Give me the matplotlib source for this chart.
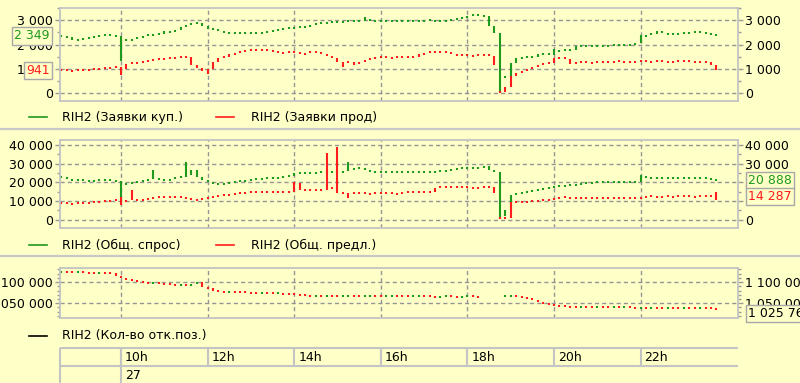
import numpy as np
import matplotlib
matplotlib.use("Agg")
import matplotlib.pyplot as plt
from matplotlib.lines import Line2D
from matplotlib.ticker import MultipleLocator, FuncFormatter
from matplotlib import transforms

# candle grid: one candle every 7.5 minutes, starting 8:37:30
t_first = 8.625
step_h = 0.125
hours = [10, 12, 14, 16, 18, 20, 22]
hour_labels = ["10h", "12h", "14h", "16h", "18h", "20h", "22h"]
day_label = "27"

# RIH2 (Заявки куп.)
bids = [2340, 2300, 2200, 2180, 2250, 2300, 2320, 2340, 2450, 2330, 2350,
        2200,
        2150, 2220, 2300, 2350, 2400, 2380, 2450, 2550, 2500, 2600, 2700, 2800, 2870, 2900,
        2750, 2650, 2600, 2550, 2500, 2480, 2450, 2500, 2470,
        2470, 2500, 2480, 2520, 2550, 2600,
        2650, 2700, 2680, 2720, 2750, 2800,
        2850, 2900, 2880, 2950, 2920, 2960, 3000, 2950, 2980,
        3050,
        2950, 2970, 2940, 2960, 2980, 2950, 2960, 2990, 2970, 2950, 2980, 3000, 2960, 2940,
        2970, 3000, 3050, 3100,
        3150, 3250, 3150, 3180,
        2750, 2480,
        650,
        660, 1230,
        1450, 1480, 1500, 1470, 1600, 1620, 1580,
        1700,
        1770, 1800, 1780,
        1930, 1950, 1920, 1940, 1960, 1950, 1970, 1980, 1960, 1990, 2000, 2050,
        2300,
        2400, 2450, 2550, 2460, 2430, 2400, 2450, 2480, 2500, 2530, 2470, 2450, 2430, 2349]
bids_low = {11: 1320, 81: 0}
bids_high = {56: 3120, 91: 1800, 107: 2380}

# RIH2 (Заявки прод)
asks = [950, 930, 940, 960, 950, 980, 1000, 1020, 1050, 1060, 1070,
        1000,
        1200, 1250, 1270, 1300, 1350, 1380, 1400, 1420, 1450, 1480, 1460, 1500, 1150, 1050,
        900, 1000, 1300, 1450, 1500, 1600, 1650, 1700, 1750,
        1770, 1800, 1780, 1750, 1700, 1690,
        1650, 1700, 1680, 1600, 1650, 1700,
        1680, 1600, 1550, 1450, 1300, 1270, 1300, 1250, 1280,
        1350,
        1450, 1480, 1500, 1450, 1480, 1500, 1470, 1490, 1500, 1600, 1650, 1700, 1690, 1720,
        1680, 1600, 1550, 1580,
        1560, 1540, 1580, 1560,
        1550, 1150,
        40,
        250, 700,
        830, 900, 1000, 1100, 1150, 1230, 1230,
        1440,
        1450, 1420, 1200,
        1270, 1300, 1250, 1280, 1300, 1310, 1290, 1300, 1320, 1280, 1300, 1310,
        1320,
        1300, 1310, 1330, 1300, 1290, 1310, 1350, 1320, 1300, 1310, 1290, 1300, 1150, 941]
asks_low = {11: 740, 27: 800, 52: 1070, 54: 1150}
asks_open = {81: 40}

# RIH2 (Общ. спрос)
demand = [22700, 21500, 21000, 21200, 21000, 20800, 21100, 21000, 21300, 20700, 20500,
          19000,
          19500, 19800, 20500, 21000, 21500, 22000, 21500, 21000, 21800, 22700, 23000, 24000,
          26500, 23000,
          21000, 20000, 19500, 19000, 19500, 20000, 20500, 21000, 20800,
          21500, 21800, 22000, 22500, 22200, 22700,
          23000, 23500, 25000, 25200, 24800, 25000,
          25300, 25500, 25500, 25800, 25500, 26000, 26500, 27600, 27500,
          26500,
          25500, 25600, 25400, 25700, 25500, 25600, 25800, 25500, 25400, 25600, 25700, 25500,
          25800, 26000, 26500, 27000, 27600, 27400,
          27800, 28000, 27600, 28700,
          26500, 25500,
          2000,
          5000, 13000,
          14000, 14500, 15000, 15500, 16000, 16500, 17000,
          17500,
          18000, 18500, 18300,
          19000, 19500, 19200, 19800, 20000, 20000, 19800, 20100, 20000, 20200, 20100, 20300,
          23000,
          22200, 22000, 22300, 22100, 22500, 22200, 22000, 22400, 22100, 22300, 22000, 22200,
          21800, 20888]
demand_low = {11: 12000, 81: 500}
demand_high = {17: 26500, 23: 30800, 53: 30800, 107: 23700}

# RIH2 (Общ. предл.)
supply = [8800, 8500, 8700, 9000, 8800, 9200, 9500, 9800, 10000, 10200, 10400,
          10000,
          10400, 10800, 10500, 11000, 11500, 12000, 11800, 12200, 12000, 11800, 12000, 11500,
          11000, 10500,
          11500, 12000, 12500, 13000, 13200, 13500, 14000, 14200, 14500,
          14700, 14500, 14800, 14600, 14700, 14500,
          14800, 14700, 15800, 15800, 15800, 15500,
          16000, 16000, 17000, 17400, 14500, 14200, 14000, 14000, 14200,
          13800,
          14000, 14300, 14000, 14200, 13900, 14000, 14100, 15000, 14700, 14500, 14800, 15000,
          17000, 17500, 17300, 17400, 17200, 17500,
          17300, 17000, 17400, 17200,
          17500, 14500,
          600,
          600, 9300,
          9300, 9500, 9800, 10000, 10300, 10500, 11000,
          11500,
          11800, 12000, 11500,
          11800, 11600, 11500, 11700, 11500, 11600, 11400, 11500, 11700, 11500, 11600, 11500,
          12000,
          12500, 12300, 12200, 12500, 12400, 12300, 12600, 12500, 12300, 12400, 12600, 12500,
          12400, 14287]
supply_low = {11: 7700, 53: 11500, 83: 1200, 121: 10400}
supply_high = {11: 12000, 13: 15800, 43: 20000, 44: 19500, 49: 35700, 51: 38900,
               64: 15500, 121: 14700}
supply_open = {81: 600}

# RIH2 (Кол-во отк.поз.)
nan = float("nan")
open_int = [1123500, 1123000, 1122800, 1123000, 1122500, 1122000, 1121800, 1122000, 1121500,
            1121000,
            1115000, 1110000,
            1106000, 1103000, 1100500,
            1098000, 1097000, 1097500, 1096500, 1096000, 1095000,
            1093000, 1094000, 1093500, 1095000,
            1101000,
            1088000, 1085000,
            1080000, 1078000, 1077000, 1077500, 1076500, 1076000,
            1075000, 1074500, 1074000, 1074500, 1073500, 1073000, 1073200, 1072500, 1072000,
            1071000, 1070000,
            1068000, 1067000, 1067500, 1066500, 1067000, 1066500, 1066000, 1066800, 1067000,
            1066500, 1066000, 1066500, 1067000, 1066500, 1066000, 1066500, 1067000, 1066800,
            1066500, 1066000, 1066500, 1067000, 1066500, 1066000, 1065500, 1066000, 1066500,
            1066000, 1065500, 1066000, 1066500, 1066000, 1065500,
            nan, nan, nan, nan,
            1066000, 1066500, 1066000, 1065000,
            1061000, 1057000, 1053000, 1050000, 1047000, 1045000, 1043000,
            1042000, 1041500, 1041000, 1041500, 1041000, 1040500, 1041000, 1040500, 1040000,
            1040500, 1040000, 1040500, 1040000, 1039500, 1040000, 1039500, 1040000, 1039500,
            1039000, 1039500, 1039000, 1038500, 1039000, 1038500, 1038000, 1038500, 1038000,
            1037500, 1037000]
open_int_last = 1025760

W, H = 800, 383
BG = '#ffffc8'
GREEN = '#1e9a1e'
RED = '#ff1c1c'
FRAME = '#c4c4c4'
TICK = '#9a9a9a'
XLIM = (8.591, 24.25)

plt.rcParams['font.family'] = ['DejaVu Sans']


def fx(x):
    return x / W


def fy(y):
    return 1 - y / H


def thousands(v, pos=None):
    return '{:,}'.format(int(round(v))).replace(',', ' ')


fig = plt.figure(figsize=(W / 100, H / 100), dpi=100, facecolor=BG)


def make_panel(top, bottom, ylim, major, minor):
    ax = fig.add_axes([fx(60), fy(bottom), (738 - 60) / W, (bottom - top) / H])
    ax.set_facecolor(BG)
    ax.set_xlim(*XLIM)
    ax.set_ylim(*ylim)
    ax.set_xticks(hours)
    ax.tick_params(axis='x', length=0, labelbottom=False)
    ax.yaxis.set_major_locator(MultipleLocator(major))
    ax.yaxis.set_minor_locator(MultipleLocator(minor))
    ax.yaxis.set_major_formatter(FuncFormatter(thousands))
    ax.tick_params(axis='y', which='both', left=True, right=True,
                   labelleft=True, labelright=True, colors=TICK,
                   labelcolor='black', labelsize=9, pad=1.5, width=1)
    ax.tick_params(axis='y', which='major', length=3.8)
    ax.tick_params(axis='y', which='minor', length=2.2)
    ax.set_axisbelow(True)
    ax.grid(True, which='major', color='#959595', lw=1, ls=(0, (3, 2.2)))
    for s in ax.spines.values():
        s.set_color(FRAME)
        s.set_linewidth(1.3)
    return ax


def candles(ax, close, color, lows=None, highs=None, opens=None, min_px=2.0):
    x = t_first + step_h * np.arange(len(close))
    c = np.array(close, dtype=float)
    o = np.r_[c[0], c[:-1]]
    o = np.where(np.isnan(o), c, o)
    for k, v in (opens or {}).items():
        o[k] = v
    lo = np.minimum(o, c)
    hi = np.maximum(o, c)
    for k, v in (lows or {}).items():
        lo[k] = min(lo[k], v)
    for k, v in (highs or {}).items():
        hi[k] = max(hi[k], v)
    # keep flat candles visible as short dashes
    y0, y1 = ax.get_ylim()
    unit = (y1 - y0) / ax.bbox.height * min_px
    mid = (lo + hi) / 2
    small = (hi - lo) < unit
    lo = np.where(small, mid - unit / 2, lo)
    hi = np.where(small, mid + unit / 2, hi)
    if color is None:
        color = np.where(c < o, RED, GREEN)
    ok = ~np.isnan(c)
    cols = color[ok] if isinstance(color, np.ndarray) else color
    ax.vlines(x[ok], lo[ok], hi[ok], colors=cols, lw=1.5)


def value_box(ax, x, value, color, ha, dy=0):
    trans = transforms.blended_transform_factory(fig.transFigure, ax.transData)
    trans = transforms.offset_copy(trans, fig=fig, y=dy, units='dots')
    fig.text(fx(x), value, thousands(value), transform=trans, ha=ha, va='center',
             color=color, fontsize=9,
             bbox=dict(boxstyle='square,pad=0.18', fc=BG, ec='#a8a8a8', lw=1))


def legend_item(x_line, x_text, y, text, color):
    fig.add_artist(Line2D([fx(x_line), fx(x_line + 18)], [fy(y), fy(y)],
                          color=color, lw=1.2))
    fig.text(fx(x_text), fy(y), text, va='center', ha='left', fontsize=9)


# panel 1: bids / asks
ax1 = make_panel(7.5, 100.5, (-288, 3514), 1000, 500)
candles(ax1, bids, GREEN, lows=bids_low, highs=bids_high)
candles(ax1, asks, RED, lows=asks_low, opens=asks_open)
value_box(ax1, 50, bids[-1], GREEN, 'right')
value_box(ax1, 50, asks[-1], RED, 'right')
legend_item(29, 62, 117.5, 'RIH2 (Заявки куп.)', GREEN)
legend_item(216, 251, 117.5, 'RIH2 (Заявки прод)', RED)

# panel 2: total demand / supply
ax2 = make_panel(140, 228.3, (-4700, 42700), 10000, 5000)
candles(ax2, demand, GREEN, lows=demand_low, highs=demand_high)
candles(ax2, supply, RED, lows=supply_low, highs=supply_high, opens=supply_open)
value_box(ax2, 748, demand[-1], GREEN, 'left')
value_box(ax2, 748, supply[-1], RED, 'left', dy=-3.7)
legend_item(29, 62, 245, 'RIH2 (Общ. спрос)', GREEN)
legend_item(216, 251, 245, 'RIH2 (Общ. предл.)', RED)

# panel 3: open interest
ax3 = make_panel(268, 318.3, (1014300, 1133300), 50000, 10000)
candles(ax3, open_int, None)
value_box(ax3, 748, open_int_last, 'black', 'left')
legend_item(29, 62, 335.5, 'RIH2 (Кол-во отк.поз.)', 'black')

# panel separators
for y in (129, 256):
    fig.add_artist(Line2D([0, 1], [fy(y), fy(y)], color='#c8c8c8', lw=1.6))

# time scale table
axt = fig.add_axes([fx(60), 0, (738 - 60) / W, (383 - 348) / H])
axt.set_xlim(*XLIM)
axt.set_ylim(383, 348)
axt.axis('off')
axt.hlines([348, 366], XLIM[0], XLIM[1], color=FRAME, lw=1.5, clip_on=False)
axt.vlines(hours, 348, 366, color=FRAME, lw=1.5, clip_on=False)
axt.vlines([XLIM[0], hours[0]], 348, 383, color=FRAME, lw=1.5, clip_on=False)
lab_tr = transforms.offset_copy(axt.transData, fig=fig, x=4, units='dots')
for h, lab in zip(hours, hour_labels):
    axt.text(h, 357.5, lab, transform=lab_tr, ha='left', va='center', fontsize=9)
axt.text(hours[0], 375.5, day_label, transform=lab_tr, ha='left', va='center', fontsize=9)

fig.savefig('out.png', dpi=100, facecolor=BG)
